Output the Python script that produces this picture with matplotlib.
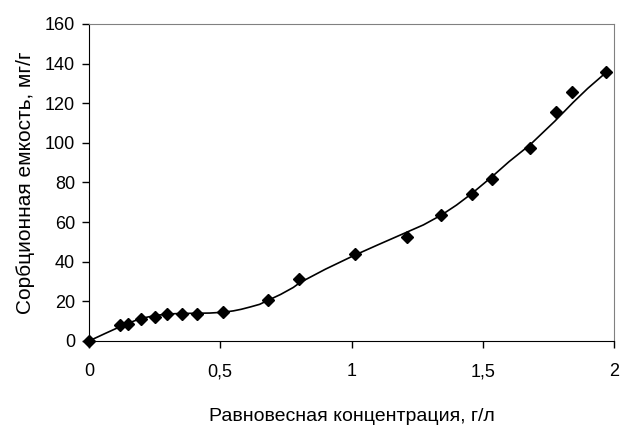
import matplotlib
matplotlib.use("Agg")
import matplotlib.pyplot as plt
from matplotlib.ticker import FuncFormatter

plt.rcParams['font.family'] = ['Liberation Sans', 'DejaVu Sans']

# measured points
conc = [0, 0.118, 0.149, 0.198, 0.25, 0.297, 0.354, 0.41, 0.51, 0.68, 0.80,
        1.013, 1.21, 1.34, 1.46, 1.535, 1.68, 1.78, 1.84, 1.97]
capacity = [0, 8, 8.5, 11, 12, 13.6, 13.6, 13.6, 14.6, 20.7, 31.3,
            44, 52.5, 63.6, 74, 82, 97.5, 115.6, 125.8, 136]

# smoothed line
line_x = [0, 0.06, 0.118, 0.16, 0.198, 0.25, 0.296, 0.35, 0.41, 0.46, 0.51,
          0.55, 0.58, 0.615, 0.65, 0.68, 0.73, 0.778, 0.804, 0.9, 1.007,
          1.1, 1.2, 1.274, 1.343, 1.4, 1.46, 1.536, 1.6, 1.68, 1.775,
          1.845, 1.9, 1.974]
line_y = [0, 3.7, 7.2, 9.5, 11.4, 12.8, 13.6, 13.9, 14, 14.1, 14.5,
          15.2, 16, 17.2, 18.5, 20.4, 23.5, 27, 29.5, 36.2, 43,
          48.5, 54.3, 58.6, 63.6, 68.6, 74.6, 83, 90.5, 99, 111,
          120.5, 127.5, 136]

fig = plt.figure(figsize=(6.25, 4.33), dpi=100)
ax = fig.add_axes([0.1424, 0.2125, 0.84, 0.7321])

ax.plot(line_x, line_y, color='black', lw=1.2, zorder=2)
ax.plot(conc, capacity, linestyle='none', marker='D', ms=6.5, color='black',
        clip_on=False, zorder=3)

ax.set_xlim(0, 2)
ax.set_ylim(0, 160)
ax.set_xticks([0, 0.5, 1, 1.5, 2])
ax.set_yticks(range(0, 161, 20))
ax.xaxis.set_major_formatter(FuncFormatter(lambda v, p: ('%g' % v).replace('.', ',')))

for side in ('top', 'right'):
    ax.spines[side].set_color('#808080')
for side in ('left', 'bottom'):
    ax.spines[side].set_color('black')
ax.tick_params(direction='out', length=5, width=1, labelsize=13, pad=5)
ax.tick_params(axis='x', pad=11)

ax.set_xlabel('Равновесная концентрация, г/л', fontsize=14, labelpad=20)
ax.set_ylabel('Сорбционная емкость, мг/г', fontsize=15, labelpad=7)

fig.savefig('out.png', dpi=100)
